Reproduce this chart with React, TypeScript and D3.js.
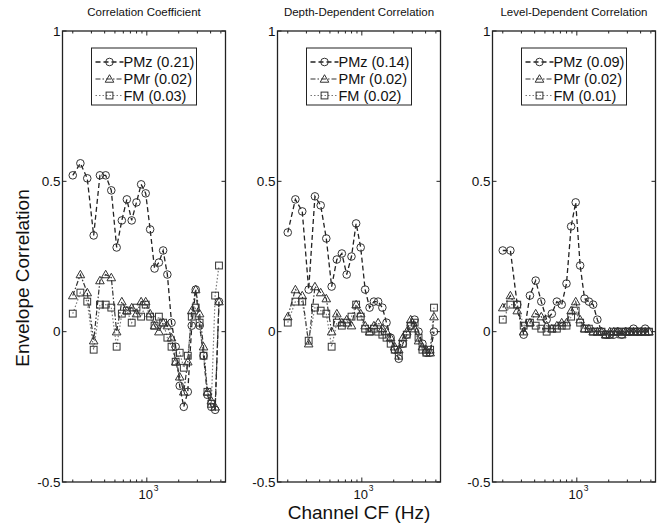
import React from "react";
import * as d3 from "d3";

// Channel centre frequencies (Hz)
const CF = [200, 236, 274, 315, 361, 409, 462, 519, 581, 648, 720, 799, 884, 976, 1075, 1183,
  1300, 1426, 1563, 1711, 1872, 2044, 2232, 2436, 2656, 2894, 3151, 3431, 3734, 4062, 4416, 4800];

const panelTitles = ["Correlation Coefficient", "Depth-Dependent Correlation", "Level-Dependent Correlation"];
const seriesNames = ["PMz", "PMr", "FM"];
const legendValues = [["0.21", "0.02", "0.03"], ["0.14", "0.02", "0.02"], ["0.09", "0.02", "0.01"]];

// Panel 1: Correlation Coefficient
const p1PMz = [0.52, 0.56, 0.51, 0.32, 0.52, 0.52, 0.47, 0.28, 0.37, 0.44, 0.37, 0.43, 0.49, 0.46, 0.34, 0.21,
  0.23, 0.27, 0.19, 0.03, -0.05, -0.18, -0.25, -0.2, 0.02, 0.14, 0.02, -0.08, -0.21, -0.25, -0.26, 0.1];
const p1PMr = [0.12, 0.19, 0.13, -0.03, 0.17, 0.19, 0.18, 0.0, 0.1, 0.07, 0.08, 0.06, 0.1, 0.1, 0.06, 0.02,
  0.0, 0.03, 0.02, -0.02, -0.1, -0.15, -0.2, -0.1, 0.07, 0.14, 0.06, -0.05, -0.2, -0.23, -0.25, 0.1];
const p1FM = [0.06, 0.13, 0.1, -0.06, 0.09, 0.09, 0.08, -0.05, 0.06, 0.07, 0.03, 0.08, 0.05, 0.09, 0.05, 0.02,
  0.05, 0.03, -0.02, -0.05, -0.1, -0.07, -0.12, -0.08, 0.05, 0.08, 0.03, -0.08, -0.2, -0.24, 0.12, 0.22];

// Panel 2: Depth-Dependent Correlation
const p2PMz = [0.33, 0.44, 0.4, 0.14, 0.45, 0.42, 0.31, 0.15, 0.24, 0.26, 0.19, 0.25, 0.36, 0.28, 0.14, 0.08,
  0.1, 0.1, 0.08, 0.03, -0.02, -0.06, -0.09, -0.04, -0.01, 0.02, 0.04, 0.0, -0.04, -0.07, -0.07, 0.0];
const p2PMr = [0.05, 0.14, 0.12, -0.04, 0.15, 0.13, 0.11, 0.0, 0.06, 0.03, 0.04, 0.02, 0.09, 0.06, 0.02, 0.0,
  0.02, 0.03, 0.01, 0.0, -0.02, -0.05, -0.06, -0.02, 0.0, 0.04, 0.01, -0.03, -0.05, -0.06, -0.07, 0.05];
const p2FM = [0.03, 0.1, 0.1, -0.03, 0.08, 0.07, 0.06, -0.05, 0.03, 0.02, 0.03, 0.05, 0.09, 0.05, 0.01, 0.0,
  0.01, 0.0, -0.01, -0.02, -0.04, -0.06, -0.08, -0.04, -0.01, 0.02, 0.03, -0.02, -0.06, -0.07, -0.06, 0.08];

// Panel 3: Level-Dependent Correlation
const p3PMz = [0.27, 0.27, 0.09, -0.01, 0.12, 0.17, 0.1, 0.04, 0.06, 0.1, 0.09, 0.16, 0.35, 0.43, 0.22, 0.11,
  0.1, 0.09, 0.04, 0.0, -0.01, -0.01, -0.01, 0.0, -0.01, 0.0, 0.0, 0.01, 0.0, 0.0, 0.01, 0.0];
const p3PMr = [0.08, 0.12, 0.07, 0.0, 0.03, 0.06, 0.05, 0.02, 0.01, 0.02, 0.03, 0.03, 0.07, 0.1, 0.04, 0.01,
  0.01, 0.0, 0.0, 0.0, -0.01, 0.0, 0.0, 0.0, -0.01, 0.0, 0.0, 0.0, 0.0, 0.0, 0.0, 0.0];
const p3FM = [0.04, 0.09, 0.09, 0.02, 0.03, 0.02, 0.01, 0.0, 0.01, 0.01, 0.02, 0.02, 0.05, 0.07, 0.03, 0.01,
  0.01, 0.0, 0.0, 0.0, -0.01, -0.01, 0.0, 0.0, 0.0, 0.0, 0.0, 0.0, 0.0, 0.0, 0.0, 0.0];

const panelData = [[p1PMz, p1PMr, p1FM], [p2PMz, p2PMr, p2FM], [p3PMz, p3PMr, p3FM]];

const yTicks = [-0.5, 0, 0.5, 1];
const yTickLabels = ["-0.5", "0", "0.5", "1"];
const xMinorTicks = [200, 300, 400, 500, 600, 700, 800, 900, 2000, 3000, 4000, 5000];
const xMajorTicks = [1000];

const W = 667, H = 527;
const panelLefts = [62.5, 277.5, 492.5];
const panelW = 163;
const top = 31, bottom = 482;
const FONT = "'Liberation Sans', Arial, sans-serif";

const lineStyles = [
  { dash: "5,3", color: "#222", width: 1.3 },
  { dash: "5,2,1.5,2", color: "#333", width: 1.2 },
  { dash: "1.5,2", color: "#777", width: 1.2 },
];
const markerColor = "#333";

function Marker({ type, x, y }: { type: number; x: number; y: number }) {
  if (type === 0) return <circle cx={x} cy={y} r={3.8} fill="none" stroke={markerColor} strokeWidth={1} />;
  if (type === 1) {
    const s = 4.3;
    const p = `M${x},${y - s} L${x + s},${y + s * 0.75} L${x - s},${y + s * 0.75} Z`;
    return <path d={p} fill="none" stroke={markerColor} strokeWidth={1} />;
  }
  return <rect x={x - 3.4} y={y - 3.4} width={6.8} height={6.8} fill="none" stroke={markerColor} strokeWidth={1} />;
}

function Panel({ idx }: { idx: number }) {
  const left = panelLefts[idx];
  const right = left + panelW;
  const x = d3.scaleLog().domain([160, 5530]).range([left, right]);
  const y = d3.scaleLinear().domain([-0.5, 1]).range([bottom, top]);
  const data = panelData[idx];
  const lineGen = (vals: number[]) =>
    d3.line<number>().x((_, i) => x(CF[i])).y((v) => y(v))(vals) as string;

  const lx = left + 29, ly = 48, lw = 105, lh = 57;
  const rowY = [62, 79, 95.5];

  return (
    <g>
      <text x={(left + right) / 2} y={16} textAnchor="middle" fontFamily={FONT} fontSize={11.5} fill="#111">
        {panelTitles[idx]}
      </text>
      {data.map((vals, s) => (
        <path key={"l" + s} d={lineGen(vals)} fill="none" stroke={lineStyles[s].color}
          strokeWidth={lineStyles[s].width} strokeDasharray={lineStyles[s].dash} />
      ))}
      {data.map((vals, s) =>
        vals.map((v, i) => <Marker key={`m${s}-${i}`} type={s} x={x(CF[i])} y={y(v)} />)
      )}
      <rect x={left} y={top} width={panelW} height={bottom - top} fill="none" stroke="#222" strokeWidth={1.3} />
      {yTicks.map((t, i) => (
        <g key={"yt" + i}>
          <line x1={left} x2={left + 4} y1={y(t)} y2={y(t)} stroke="#222" strokeWidth={1} />
          <line x1={right} x2={right - 4} y1={y(t)} y2={y(t)} stroke="#222" strokeWidth={1} />
          <text x={left - 2} y={y(t)} dy="0.35em" textAnchor="end" fontFamily={FONT} fontSize={13.5} fill="#111">
            {yTickLabels[i]}
          </text>
        </g>
      ))}
      {xMinorTicks.map((t) => (
        <g key={"xm" + t}>
          <line x1={x(t)} x2={x(t)} y1={bottom} y2={bottom - 2.5} stroke="#222" strokeWidth={1} />
          <line x1={x(t)} x2={x(t)} y1={top} y2={top + 2.5} stroke="#222" strokeWidth={1} />
        </g>
      ))}
      {xMajorTicks.map((t) => (
        <g key={"xM" + t}>
          <line x1={x(t)} x2={x(t)} y1={bottom} y2={bottom - 4.5} stroke="#222" strokeWidth={1} />
          <line x1={x(t)} x2={x(t)} y1={top} y2={top + 4.5} stroke="#222" strokeWidth={1} />
          <text x={x(t) - 1} y={499} textAnchor="middle" fontFamily={FONT} fontSize={13} fill="#111">10</text>
          <text x={x(t) + 7} y={491} textAnchor="start" fontFamily={FONT} fontSize={8.5} fill="#111">3</text>
        </g>
      ))}
      <rect x={lx} y={ly} width={lw} height={lh} fill="#fff" stroke="#222" strokeWidth={1} />
      {seriesNames.map((n, s) => (
        <g key={"lg" + s}>
          <line x1={lx + 4} x2={lx + 32} y1={rowY[s]} y2={rowY[s]} stroke={lineStyles[s].color}
            strokeWidth={lineStyles[s].width} strokeDasharray={lineStyles[s].dash} />
          <Marker type={s} x={lx + 18} y={rowY[s]} />
          <text x={lx + 32} y={rowY[s]} dy="0.35em" fontFamily={FONT} fontSize={14.5} fill="#111">
            {`${n} (${legendValues[idx][s]})`}
          </text>
        </g>
      ))}
    </g>
  );
}

export default function App() {
  const ly = 278;
  return (
    <svg width={W} height={H} style={{ position: "absolute", left: 0, top: 0, background: "#fff" }}>
      <rect x={0} y={0} width={W} height={H} fill="#fff" />
      {[0, 1, 2].map((i) => <Panel key={i} idx={i} />)}
      <text x={22} y={ly} transform={`rotate(-90, 22, ${ly})`} textAnchor="middle"
        dy="0.35em" fontFamily={FONT} fontSize={19} fill="#111">Envelope Correlation</text>
      <text x={359} y={519} textAnchor="middle" fontFamily={FONT} fontSize={19} fill="#111">Channel CF (Hz)</text>
    </svg>
  );
}
